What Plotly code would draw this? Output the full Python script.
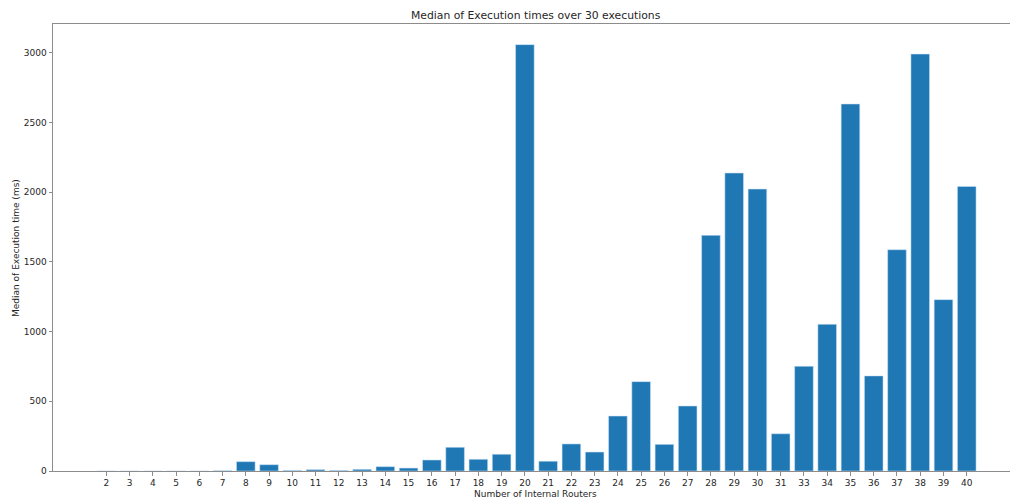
import plotly.graph_objects as go

# Number of internal routers (32 was not run)
routers = [str(n) for n in list(range(2, 32)) + list(range(33, 41))]

# Median execution time in ms over 30 executions
median_ms = [
    0, 0, 0, 0, 0, 2, 67, 45, 4, 10,
    4, 12, 31, 21, 79, 170, 84, 120, 3058, 70,
    194, 136, 394, 641, 191, 466, 1690, 2137, 2022, 267,
    751, 1052, 2632, 682, 1587, 2990, 1229, 2041,
]

BAR_COLOR = "#1f77b4"
TEXT_COLOR = "#262626"
SPINE_COLOR = "#8c8c8c"
FONT = "DejaVu Sans"

fig = go.Figure(
    go.Bar(
        x=list(range(len(routers))),
        y=median_ms,
        marker=dict(color=BAR_COLOR, line=dict(width=0.6, color="rgba(200,225,245,0.9)")),
        hoverinfo="x+y",
    )
)

fig.update_layout(
    width=1010,
    height=500,
    margin=dict(l=53, r=0, t=24, b=29),
    paper_bgcolor="white",
    plot_bgcolor="white",
    bargap=0.2,
    showlegend=False,
    font=dict(family=FONT, size=9, color=TEXT_COLOR),
    xaxis=dict(
        tickmode="array",
        tickvals=list(range(len(routers))),
        ticktext=routers,
        range=[-2.29, 38.86],
        showgrid=False,
        zeroline=False,
        showline=True,
        linecolor=SPINE_COLOR,
        linewidth=1,
        mirror=True,
        ticks="outside",
        ticklen=3.5,
        tickcolor=SPINE_COLOR,
        tickfont=dict(size=9, color=TEXT_COLOR),
    ),
    yaxis=dict(
        range=[0, 3206],
        tickmode="array",
        tickvals=[0, 500, 1000, 1500, 2000, 2500, 3000],
        ticktext=["0", "500", "1000", "1500", "2000", "2500", "3000"],
        showgrid=False,
        zeroline=False,
        showline=True,
        linecolor=SPINE_COLOR,
        linewidth=1,
        ticks="outside",
        ticklen=3.5,
        tickcolor=SPINE_COLOR,
        tickfont=dict(size=9, color=TEXT_COLOR),
    ),
    annotations=[
        dict(
            text="Median of Execution times over 30 executions",
            xref="paper", yref="paper", x=0.5046, y=1.0201,
            xanchor="center", yanchor="middle", showarrow=False,
            font=dict(family=FONT, size=10.8, color=TEXT_COLOR),
        ),
        dict(
            text="Number of Internal Routers",
            xref="paper", yref="paper", x=0.5046, y=-0.0507,
            xanchor="center", yanchor="middle", showarrow=False,
            font=dict(family=FONT, size=9, color=TEXT_COLOR),
        ),
        dict(
            text="Median of Execution time (ms)",
            xref="paper", yref="paper", x=-0.0392, y=0.5,
            xanchor="center", yanchor="middle", showarrow=False,
            textangle=-90,
            font=dict(family=FONT, size=9, color=TEXT_COLOR),
        ),
    ],
)

fig.write_html("out.html")
